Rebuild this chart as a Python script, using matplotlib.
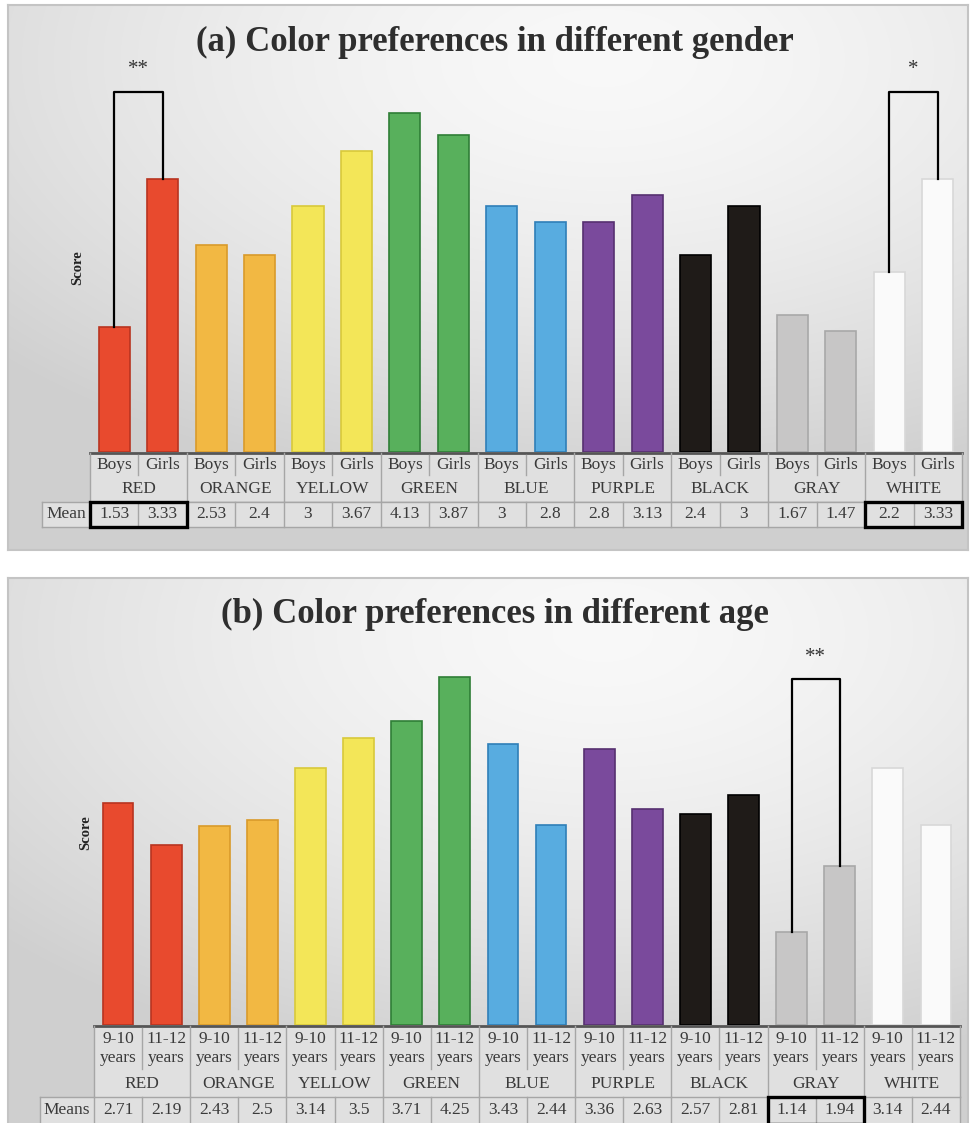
import numpy as np
import matplotlib
matplotlib.use("Agg")
import matplotlib.pyplot as plt
from matplotlib.patches import Rectangle

# ---------------- data ----------------
color_names = ["RED", "ORANGE", "YELLOW", "GREEN", "BLUE", "PURPLE", "BLACK", "GRAY", "WHITE"]
gender_labels = ["Boys", "Girls"]
boys = [1.53, 2.53, 3, 4.13, 3, 2.8, 2.4, 1.67, 2.2]
girls = [3.33, 2.4, 3.67, 3.87, 2.8, 3.13, 3, 1.47, 3.33]
boys_txt = ["1.53", "2.53", "3", "4.13", "3", "2.8", "2.4", "1.67", "2.2"]
girls_txt = ["3.33", "2.4", "3.67", "3.87", "2.8", "3.13", "3", "1.47", "3.33"]

age_labels = ["9-10\nyears", "11-12\nyears"]
age_9_10 = [2.71, 2.43, 3.14, 3.71, 3.43, 3.36, 2.57, 1.14, 3.14]
age_11_12 = [2.19, 2.5, 3.5, 4.25, 2.44, 2.63, 2.81, 1.94, 2.44]
age_9_10_txt = ["2.71", "2.43", "3.14", "3.71", "3.43", "3.36", "2.57", "1.14", "3.14"]
age_11_12_txt = ["2.19", "2.5", "3.5", "4.25", "2.44", "2.63", "2.81", "1.94", "2.44"]

fill_colors = ["#E84A2E", "#F2B843", "#F3E658", "#58B05C", "#58ACE0",
               "#7A4A9C", "#1F1B18", "#C7C6C6", "#FAFAFA"]
edge_colors = ["#B83420", "#D99A2A", "#D8C93A", "#2F7E36", "#2F7FB8",
               "#563070", "#000000", "#A8A8A8", "#D8D8D8"]

# significant groups: (group index, stars)
sig_a = [(0, "**"), (8, "*")]
sig_b = [(7, "**")]

W, H = 973, 1123
fig = plt.figure(figsize=(W / 100, H / 100), dpi=100)
SERIF = ["Liberation Serif", "DejaVu Serif"]
TXT = "#3a3a3a"
GRID = "#a6a6a6"
CELL = "#e0e0e0"


def fig_rect(l, t, r, b):
    return [l / W, 1 - b / H, (r - l) / W, (b - t) / H]


def background(l, t, r, b):
    bg = fig.add_axes(fig_rect(l, t, r, b), zorder=-5)
    h, w = 300, 300
    yy, xx = np.mgrid[0:1:h * 1j, 0:1:w * 1j]
    d = np.sqrt(((xx - 0.62) / 1.0) ** 2 + ((yy - 0.1) / 0.95) ** 2)
    v = 0.975 - 0.16 * np.clip(d / 0.85, 0, 1) ** 1.5
    img = np.dstack([v, v, v])
    bg.imshow(img, aspect="auto", extent=[0, 1, 0, 1], origin="upper",
              interpolation="bilinear")
    bg.set_xlim(0, 1)
    bg.set_ylim(0, 1)
    for s in bg.spines.values():
        s.set_color("#c4c4c4")
        s.set_linewidth(1.5)
    bg.set_xticks([])
    bg.set_yticks([])


def panel(box, title, title_y, left, right, base, scale, v1, v2, t1, t2,
          sublabels, two_line, mean_label, mean_l, rows, sigs, brk_top, score_xy):
    background(*box)
    top = base - 4.9 * scale
    ax = fig.add_axes(fig_rect(left, top, right, base), zorder=1)
    ax.set_facecolor("none")
    ax.set_xlim(-0.5, 17.5)
    ax.set_ylim(0, (base - top) / scale)
    ax.axis("off")
    subw = (right - left) / 18.0

    def X(px):
        return (px - left) / subw - 0.5

    def Y(py):
        return (base - py) / scale

    vals = [v for pair in zip(v1, v2) for v in pair]
    txts = [v for pair in zip(t1, t2) for v in pair]
    xs = np.arange(18)
    fc = [c for c in fill_colors for _ in range(2)]
    ec = [c for c in edge_colors for _ in range(2)]
    ax.bar(xs, vals, width=0.64, color=fc, edgecolor=ec, linewidth=1.2, zorder=3)

    # title
    fig.text(495 / W, 1 - title_y / H, title, ha="center", va="center",
             fontsize=25, fontweight="bold", family=SERIF, color="#2e2e2e")
    fig.text(score_xy[0] / W, 1 - score_xy[1] / H, "Score", rotation=90,
             ha="center", va="center", fontsize=10.5, fontweight="bold",
             family=SERIF, color="#222222")

    r1t, r1b, r2b, r3t, r3b = rows
    kw = dict(clip_on=False, zorder=4)
    # cell fills
    ax.add_patch(Rectangle((-0.5, Y(r2b)), 18, Y(r1t) - Y(r2b), facecolor=CELL,
                           edgecolor="none", clip_on=False, zorder=2))
    ax.add_patch(Rectangle((X(mean_l), Y(r3b)), 17.5 - X(mean_l), Y(r3t) - Y(r3b),
                           facecolor=CELL, edgecolor="none", clip_on=False, zorder=2))
    # axis line
    ax.plot([-0.5, 17.5], [Y(base + 1), Y(base + 1)], color="#555555", lw=2, **kw)
    # group dividers and sub dividers
    for g in range(10):
        xg = -0.5 + 2 * g
        ax.plot([xg, xg], [Y(r1t), Y(r2b)], color=GRID, lw=1, **kw)
    for g in range(9):
        xs_ = 0.5 + 2 * g
        ax.plot([xs_, xs_], [Y(r1t + 2), Y(r1b - 2)], color=GRID, lw=1, **kw)
    # row 3 grid
    ax.plot([X(mean_l), 17.5], [Y(r3t), Y(r3t)], color=GRID, lw=1, **kw)
    ax.plot([X(mean_l), 17.5], [Y(r3b), Y(r3b)], color=GRID, lw=1, **kw)
    ax.plot([X(mean_l), X(mean_l)], [Y(r3t), Y(r3b)], color=GRID, lw=1, **kw)
    for i in range(19):
        xb = -0.5 + i
        ax.plot([xb, xb], [Y(r3t), Y(r3b)], color=GRID, lw=1, **kw)

    # texts
    fs = 12.5
    for i in range(18):
        lab = sublabels[i % 2]
        ax.text(i, Y((r1t + r1b) / 2), lab, ha="center", va="center",
                fontsize=fs, family=SERIF, color=TXT, linespacing=1.2, zorder=5)
        ax.text(i, Y((r3t + r3b) / 2), txts[i], ha="center", va="center",
                fontsize=fs, family=SERIF, color=TXT, zorder=5)
    for g, name in enumerate(color_names):
        ax.text(2 * g + 0.5, Y((r1b + r2b) / 2), name, ha="center", va="center",
                fontsize=fs, family=SERIF, color=TXT, zorder=5)
    ax.text((X(mean_l) - 0.5) / 2, Y((r3t + r3b) / 2), mean_label, ha="center",
            va="center", fontsize=fs, family=SERIF, color=TXT, zorder=5)

    # significance
    for g, stars in sigs:
        x1, x2 = 2 * g, 2 * g + 1
        yt = Y(brk_top)
        ax.plot([x1, x1, x2, x2], [vals[x1], yt, yt, vals[x2]], color="black",
                lw=1.6, clip_on=False, zorder=5)
        ax.text((x1 + x2) / 2, Y(brk_top - 22), stars, ha="center", va="center",
                fontsize=15, color="#333333", family=SERIF)
        ax.add_patch(Rectangle((x1 - 0.5, Y(r3b)), 2, Y(r3t) - Y(r3b), fill=False,
                               edgecolor="black", lw=2.4, clip_on=False, zorder=6))
    return ax


# panel (a)
panel((8, 5, 968, 550), "(a) Color preferences in different gender", 42,
      90, 962, 452, 82.0, boys, girls, boys_txt, girls_txt,
      gender_labels, False, "Mean", 42,
      (453, 477, 501, 502, 527), sig_a, 92, (78, 268))

# panel (b)
panel((8, 578, 968, 1135), "(b) Color preferences in different age", 614,
      94, 960, 1025, 82.0, age_9_10, age_11_12, age_9_10_txt, age_11_12_txt,
      age_labels, True, "Means", 40,
      (1026, 1071, 1097, 1097, 1124), sig_b, 679, (86, 833))

fig.savefig("out.png", dpi=100)
